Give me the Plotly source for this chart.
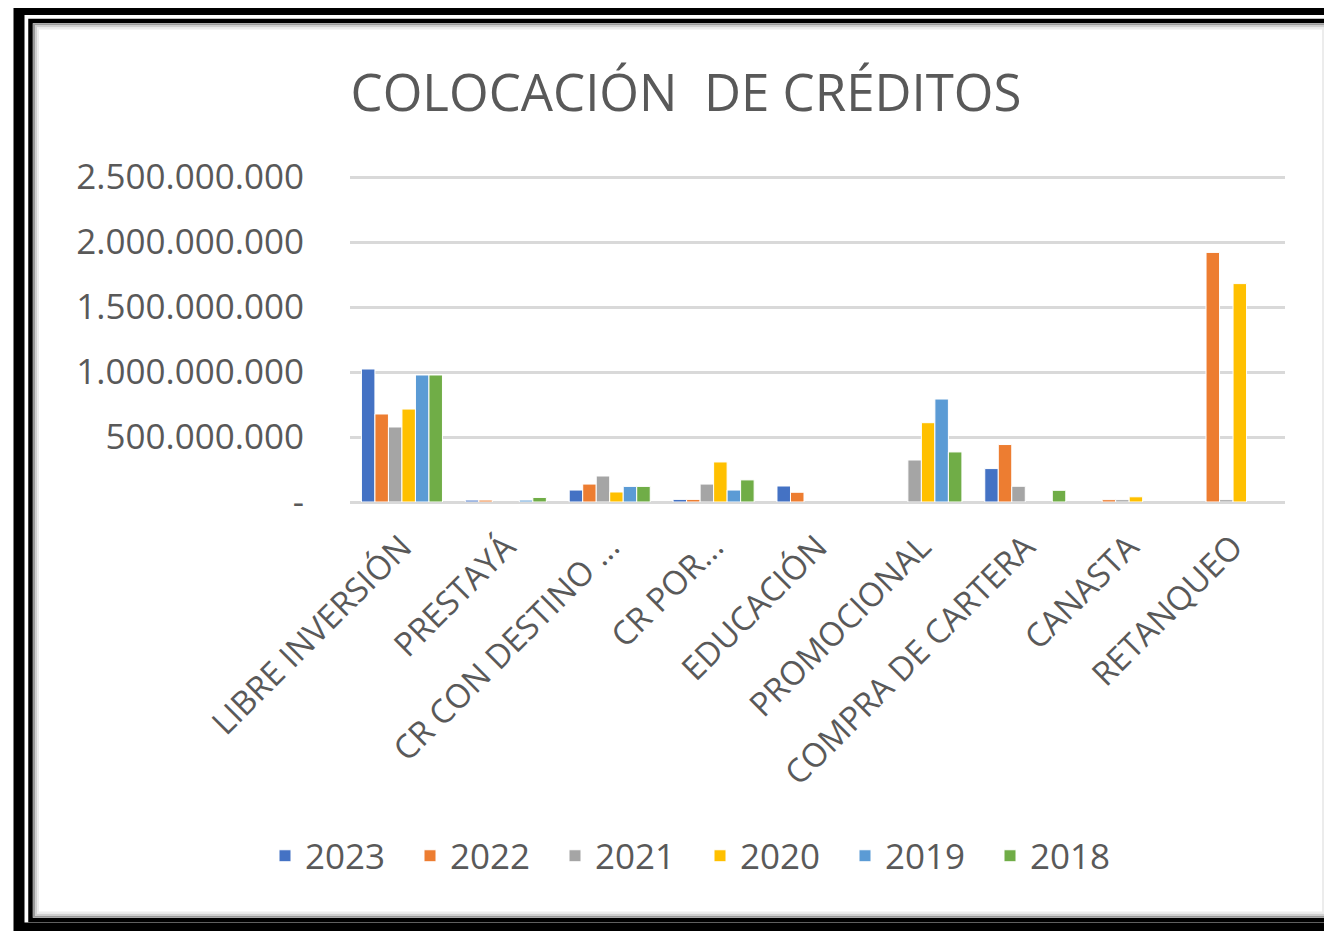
import plotly.graph_objects as go

categories = ["LIBRE INVERSIÓN", "PRESTAYÁ", "CR CON DESTINO ...", "CR POR...", "EDUCACIÓN",
              "PROMOCIONAL", "COMPRA DE CARTERA", "CANASTA", "RETANQUEO"]
years = ["2023", "2022", "2021", "2020", "2019", "2018"]

v2023 = [1023000000, 15000000, 92000000, 20000000, 123000000, None, 257000000, None, None]
v2022 = [677000000, 15000000, 138000000, 20000000, 75000000, None, 442000000, 18000000, 1920000000]
v2021 = [577000000, None, 200000000, 138000000, None, 323000000, 121000000, 18000000, 18000000]
v2020 = [715000000, None, 77000000, 308000000, None, 610000000, None, 40000000, 1680000000]
v2019 = [977000000, 15000000, 120000000, 92000000, None, 792000000, None, None, None]
v2018 = [977000000, 35000000, 120000000, 170000000, None, 385000000, 90000000, None, None]
series = [v2023, v2022, v2021, v2020, v2019, v2018]

colors = ["#4472C4", "#ED7D31", "#A5A5A5", "#FFC000", "#5B9BD5", "#70AD47"]

tickvals = [0, 500000000, 1000000000, 1500000000, 2000000000, 2500000000]
ticktext = ["-", "500.000.000", "1.000.000.000", "1.500.000.000", "2.000.000.000", "2.500.000.000"]

OFF = 8                      # browser default body margin
W, H = 1332 - OFF, 931 - OFF
# plot area in page pixels
PL, PR, PT, PB = 350, 1285, 174, 502
YTOP = 2500000000 * (PB - PT) / (PB - 177)   # so that 2.5e9 sits at page y=177

def px(X):
    return (X - PL) / (PR - PL)

def py(Y):
    return (PB - Y) / (PB - PT)

FONT = "Open Sans"
TXT = "#595959"

fig = go.Figure()
for name, vals, c in zip(years, series, colors):
    fig.add_trace(go.Bar(x=categories, y=vals, name=name,
                         marker=dict(color=c, line=dict(color="white", width=1))))

shapes = [
    dict(type="rect", xref="paper", yref="paper", x0=px(19), x1=px(1350), y0=py(9.5), y1=py(928),
         line=dict(color="black", width=11), fillcolor="rgba(0,0,0,0)"),
    dict(type="rect", xref="paper", yref="paper", x0=px(30.5), x1=px(1350), y0=py(21), y1=py(920),
         line=dict(color="black", width=4.5), fillcolor="rgba(0,0,0,0)"),
    dict(type="rect", xref="paper", yref="paper", x0=px(34), x1=px(1327), y0=py(24.5), y1=py(916.5),
         line=dict(color="#9a9a9a", width=2), fillcolor="rgba(0,0,0,0)"),
    dict(type="rect", xref="paper", yref="paper", x0=px(36), x1=px(1325), y0=py(26.5), y1=py(914.5),
         line=dict(color="#cfcfcf", width=2), fillcolor="rgba(0,0,0,0)"),
    dict(type="rect", xref="paper", yref="paper", x0=px(38), x1=px(1323), y0=py(28.5), y1=py(912.5),
         line=dict(color="#ececec", width=2), fillcolor="rgba(0,0,0,0)"),
]

fig.update_layout(
    width=W, height=H,
    margin=dict(l=PL - OFF, r=W - (PR - OFF), t=PT - OFF, b=H - (PB - OFF), pad=0),
    paper_bgcolor="white", plot_bgcolor="white",
    separators=",.",
    barmode="group", bargap=0.22, bargroupgap=0.0,
    font=dict(family=FONT, color=TXT),
    title=dict(text="COLOCACIÓN  DE CRÉDITOS", xref="container", x=(686 - OFF) / W, xanchor="center",
               yref="container", y=1 - (93 - OFF) / H, yanchor="middle",
               font=dict(family=FONT, size=51, color=TXT)),
    xaxis=dict(tickangle=-45, tickfont=dict(family=FONT, size=33, color=TXT),
               showgrid=False, showline=False, ticks="", ticklabelstandoff=18),
    yaxis=dict(range=[0, YTOP], tickvals=tickvals, ticktext=ticktext,
               tickfont=dict(family=FONT, size=35, color=TXT),
               showgrid=True, gridcolor="#d9d9d9", gridwidth=3,
               zeroline=True, zerolinecolor="#d9d9d9", zerolinewidth=3,
               showline=False, ticks="", ticklabelstandoff=45),
    legend=dict(orientation="h", xref="container", yref="container", x=(700 - OFF) / W, xanchor="center",
                y=1 - (856 - OFF) / H, yanchor="middle", font=dict(family=FONT, size=35, color=TXT),
                entrywidth=100, entrywidthmode="pixels", traceorder="normal"),
    shapes=shapes,
)

fig.write_html("out.html")
